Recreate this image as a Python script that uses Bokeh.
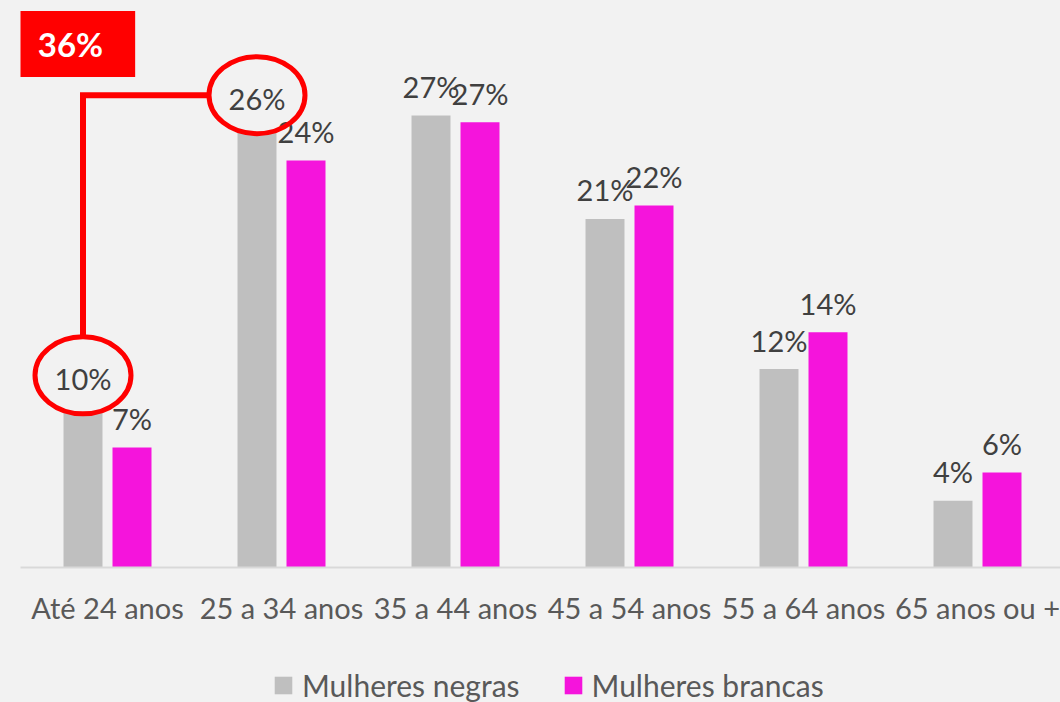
import numpy as np
from bokeh.plotting import figure
from bokeh.layouts import column
from bokeh.models import Range1d, FixedTicker, Legend, LegendItem, Label, ColumnDataSource
from bokeh.core.properties import value
from bokeh.embed import file_html
from bokeh.resources import INLINE

# ---- data ----
categories = ["Até 24 anos", "25 a 34 anos", "35 a 44 anos", "45 a 54 anos", "55 a 64 anos", "65 anos ou +"]
negras = [9.6, 26.4, 27.1, 20.9, 11.9, 4.0]      # Mulheres negras (%)
brancas = [7.2, 24.4, 26.7, 21.7, 14.1, 5.7]     # Mulheres brancas (%)
series_names = ["Mulheres negras", "Mulheres brancas"]
highlight = [0, 1]   # categories of "Mulheres negras" summed in the callout

# ---- styling / layout ----
BG = "#f2f2f2"
GRAY = "#bfbfbf"
MAGENTA = "#f514dc"
RED = "#ff0000"
FONT = "Lato"
FS = "29px"

W = 1060
H_MAIN, H_LEG = 650, 52
FRAME_LEFT = 20
FRAME_H = 567
CAT_PX = 174.0
PX_PER_PCT = 16.68
DODGE = 24.5 / CAT_PX
BW = 39.0 / CAT_PX
LOFF = 29.0 / PX_PER_PCT
ELL_W, ELL_H = 96, 77
ELL_DY = 3.0 / PX_PER_PCT   # ellipses sit slightly above their labels

x_end = (W - FRAME_LEFT) / CAT_PX - 0.5
y_end = FRAME_H / PX_PER_PCT

p = figure(width=W, height=H_MAIN, x_range=Range1d(-0.5, x_end), y_range=Range1d(0, y_end),
           output_backend="svg", toolbar_location=None, y_axis_location=None,
           min_border_left=FRAME_LEFT, min_border_right=0, min_border_top=0,
           min_border_bottom=H_MAIN - FRAME_H,
           background_fill_color=BG, border_fill_color=BG, outline_line_color=None)
p.grid.visible = False

x = np.arange(len(categories))
src = ColumnDataSource(dict(
    xn=x - DODGE, xb=x + DODGE,
    negras=negras, brancas=brancas,
    yln=np.array(negras) + LOFF, ylb=np.array(brancas) + LOFF,
    ln=[f"{round(v)}%" for v in negras], lb=[f"{round(v)}%" for v in brancas],
))

r1 = p.vbar(x="xn", top="negras", width=BW, source=src, fill_color=GRAY, line_color=None)
r2 = p.vbar(x="xb", top="brancas", width=BW, source=src, fill_color=MAGENTA, line_color=None)

# callout geometry tied to the highlighted labels
ex = [float(x[i] - DODGE) for i in highlight]
ey = [float(negras[i] + LOFF + ELL_DY) for i in highlight]
cx = [ex[0], ex[0], ex[1] - (ELL_W / 2) / CAT_PX]
cy = [ey[0] + (ELL_H / 2) / PX_PER_PCT, ey[1], ey[1]]
p.line(cx, cy, line_color=RED, line_width=6, line_join="miter")
p.ellipse(x=ex, y=ey, width=ELL_W, height=ELL_H, width_units="screen", height_units="screen",
          fill_color=BG, line_color=None)

p.text(x="xn", y="yln", text="ln", source=src, text_align="center", text_baseline="middle",
       text_font=value(FONT), text_font_size=FS, text_color="#404040")
p.text(x="xb", y="ylb", text="lb", source=src, text_align="center", text_baseline="middle",
       text_font=value(FONT), text_font_size=FS, text_color="#404040")

p.ellipse(x=ex, y=ey, width=ELL_W, height=ELL_H, width_units="screen", height_units="screen",
          fill_color=None, line_color=RED, line_width=5)

total = sum(round(negras[i]) for i in highlight)
box = Label(x=-0.5 + 50 / CAT_PX, y=y_end - 43.5 / PX_PER_PCT, text=f"{total}%",
            text_align="center", text_baseline="middle", text_font=FONT,
            text_font_size="33px", text_font_style="bold", text_color="white",
            background_fill_color=RED, padding=(32, 13))
p.add_layout(box)

ax = p.xaxis[0]
ax.ticker = FixedTicker(ticks=[int(i) for i in x])
ax.major_label_overrides = {int(i): c for i, c in zip(x, categories)}
ax.axis_line_color = "#d9d9d9"
ax.axis_line_width = 2
ax.major_tick_line_color = None
ax.minor_tick_line_color = None
ax.major_tick_out = 0
ax.major_tick_in = 0
ax.major_label_standoff = 22
ax.major_label_text_font = FONT
ax.major_label_text_font_size = FS
ax.major_label_text_color = "#595959"

# ---- legend strip ----
p2 = figure(width=W, height=H_LEG, x_range=Range1d(0, 1), y_range=Range1d(0, 1),
            output_backend="svg", toolbar_location=None,
            x_axis_location=None, y_axis_location=None, min_border=0,
            background_fill_color=BG, border_fill_color=BG, outline_line_color=None)
p2.grid.visible = False
# proxy renderers (kept outside the visible range) that carry the legend swatches
d1 = p2.vbar(x=[5], top=[1], width=0.1, fill_color=GRAY, line_color=None)
d2 = p2.vbar(x=[5], top=[1], width=0.1, fill_color=MAGENTA, line_color=None)
leg = Legend(items=[LegendItem(label=series_names[0], renderers=[d1]),
                    LegendItem(label=series_names[1], renderers=[d2])],
             orientation="horizontal", location=(252, -1),
             glyph_width=22, glyph_height=22, label_standoff=8, spacing=42,
             padding=0, margin=0, border_line_color=None, background_fill_alpha=0,
             label_text_font=FONT, label_text_font_size="30px", label_text_color="#595959")
p2.add_layout(leg)

layout = column(p, p2, spacing=0)
html = file_html(layout, INLINE)
html = html.replace("</head>", "<style>body{background:#f2f2f2;}</style></head>", 1)
open("out.html", "w").write(html)
